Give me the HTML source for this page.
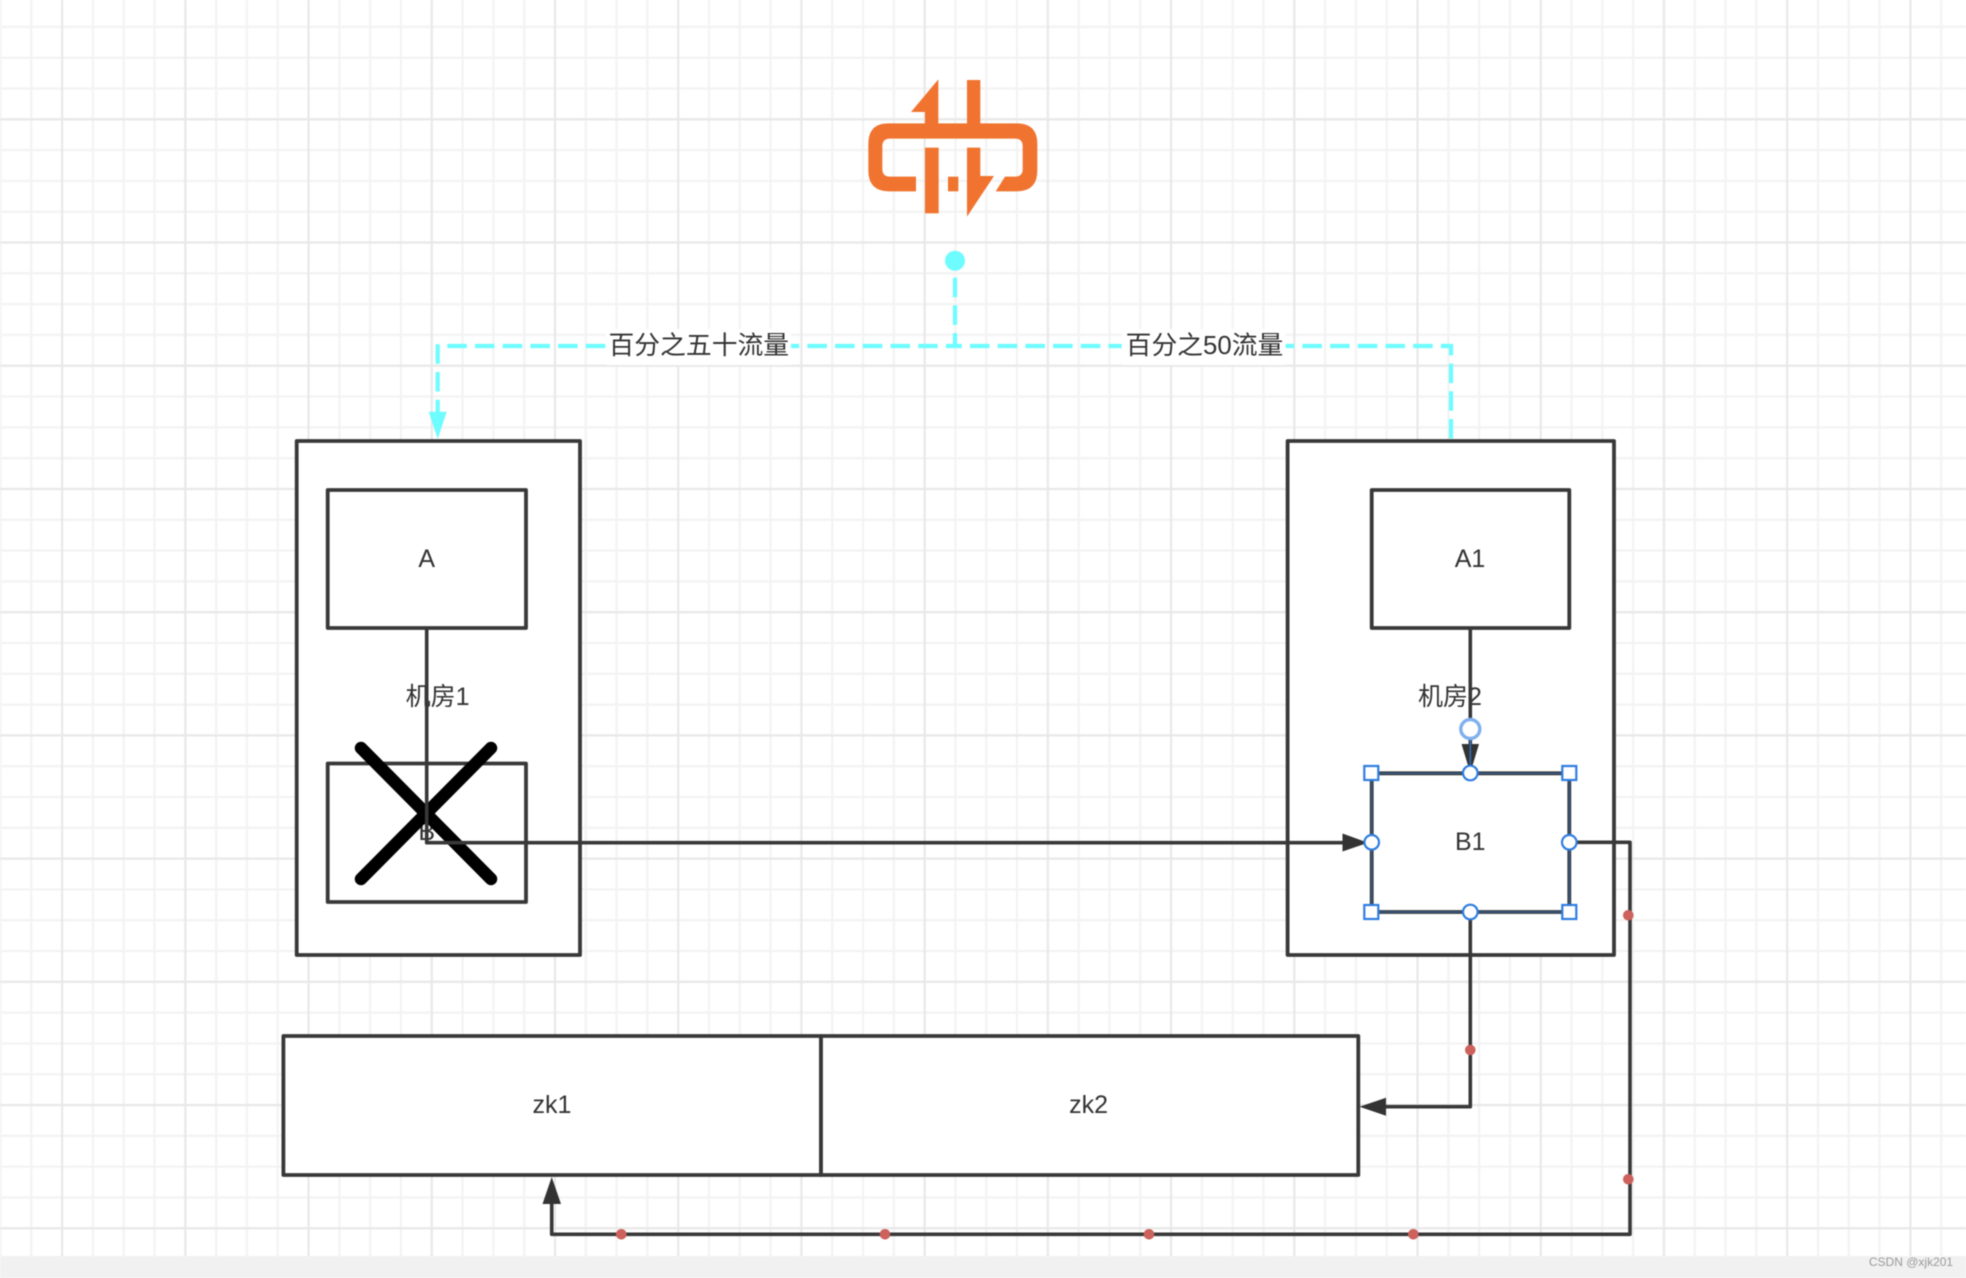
<!DOCTYPE html>
<html><head><meta charset="utf-8"><style>
html,body{margin:0;padding:0;background:#fff;width:1966px;height:1278px;overflow:hidden}
svg{display:block;filter:blur(.45px)}
text{font-family:"Liberation Sans","Noto Sans CJK SC",sans-serif;font-size:25px;fill:#333;text-anchor:middle;dominant-baseline:central}
</style></head><body>
<svg width="1966" height="1278" viewBox="0 0 1966 1278" xmlns="http://www.w3.org/2000/svg">
<defs>
<pattern id="g" patternUnits="userSpaceOnUse" x="60.1" y="117.3" width="123.22" height="123.22">
<path d="M32.8 0V123.22M63.6 0V123.22M94.4 0V123.22M0 32.8H123.22M0 63.6H123.22M0 94.4H123.22" stroke="#f3f3f3" stroke-width="2.2" fill="none"/>
<path d="M2 0V123.22M0 2H123.22" stroke="#e8e8e8" stroke-width="2.2" fill="none"/>
</pattern>
</defs>
<rect width="1966" height="1278" fill="#fff"/>
<rect width="1966" height="1256" fill="url(#g)"/>
<rect y="1256" width="1966" height="22" fill="#f1f1f1"/>
<text x="1911" y="1262" style="font-size:12px;fill:#9a9a9a">CSDN @xjk201</text>

<!-- logo -->
<g fill="#f0742f" transform="translate(800 50) scale(.33333)">
<path d="M415 88L333 186H375V222H415Z"/>
<rect x="501" y="90" width="40" height="132"/>
<path fill-rule="evenodd" d="M265 220H650Q712 220 712 282V362Q712 424 650 424H587L615 380H645Q668 380 668 357V289Q668 266 645 266H270Q247 266 247 289V357Q247 380 270 380H348V424H267Q205 424 205 362V282Q205 220 265 220Z"/>
<rect x="375" y="293" width="41" height="197"/>
<rect x="444" y="380" width="31" height="44"/>
<path d="M501 293H541V378H582L501 500Z"/>
</g>

<!-- boxes -->
<g fill="#fff" stroke="#383838" stroke-width="3.8" stroke-linejoin="round">
<rect x="296.7" y="441" width="283.3" height="514"/>
<rect x="1287.6" y="441" width="326.4" height="514"/>
<rect x="327.7" y="490" width="198.3" height="138"/>
<rect x="327.7" y="763.5" width="198.3" height="138.5"/>
<rect x="1371.7" y="490" width="197.6" height="138"/>
<rect x="1371.7" y="773.3" width="197.6" height="138.7"/>
<rect x="283.4" y="1036" width="537.6" height="139"/>
<rect x="821" y="1036" width="537.3" height="139"/>
</g>

<!-- text -->
<text x="426.7" y="559">A</text>
<text x="426.7" y="832">B</text>
<text x="437.6" y="697">机房1</text>
<text x="1470" y="559">A1</text>
<text x="1450" y="697">机房2</text>
<text x="1470.3" y="842">B1</text>
<text x="552" y="1105">zk1</text>
<text x="1088.6" y="1105">zk2</text>

<!-- cross -->
<g stroke="#000" stroke-width="12.5" stroke-linecap="round">
<path d="M361 748L491 879M491 748L361 879"/>
</g>

<!-- connectors -->
<g fill="none" stroke="#383838" stroke-width="3.6" stroke-linejoin="round">
<path d="M426.7 628V842.7H1345"/>
<path d="M1470.3 628V746"/>
<path d="M1470.3 912V1106.7H1384"/>
<path d="M1569 842.3H1630V1234.3H551.7V1202"/>
</g>
<g fill="#333">
<path d="M1342.5 833.5L1368 842.7L1342.5 851.5Z"/>
<path d="M1461.5 744H1479L1470.3 773Z"/>
<path d="M1386 1097.7V1115.7L1359.5 1106.7Z"/>
<path d="M542.5 1204H561L551.7 1177Z"/>
</g>
<g fill="#cd615c">
<circle cx="1470.3" cy="1050" r="5.3"/>
<circle cx="1628.3" cy="1179.3" r="5.3"/>
<circle cx="1628.3" cy="915.3" r="5.3"/>
<circle cx="1413.3" cy="1234.3" r="5.3"/>
<circle cx="1149" cy="1234.3" r="5.3"/>
<circle cx="885" cy="1234.3" r="5.3"/>
<circle cx="621.3" cy="1234.3" r="5.3"/>
</g>

<!-- cyan flow -->
<circle cx="955" cy="260.7" r="10" fill="#6efcff"/>
<g fill="none" stroke="#6efcff" stroke-width="4.2" stroke-dasharray="19.5 8.2">
<path d="M955 277.7V346"/>
<path d="M447.3 346H955"/>
<path d="M437.7 344.3V415"/>
<path d="M955 346H1451V441" stroke-dashoffset="12.7"/>
</g>
<path d="M428.7 411.7H446.7L437.7 439Z" fill="#6efcff"/>
<rect x="606" y="329" width="185" height="36" fill="#fff"/>
<rect x="1121.7" y="329" width="164" height="36" fill="#fff"/>
<text x="698.8" y="346" style="font-size:25.8px">百分之五十流量</text>
<text x="1204.5" y="346" style="font-size:25.8px">百分之50流量</text>

<!-- selection -->
<rect x="1371.7" y="773.3" width="197.6" height="138.7" fill="none" stroke="#2f7de1" stroke-width="1" opacity=".7"/>
<path d="M1470.3 738V764" stroke="#2f7de1" stroke-width="1.2"/>
<circle cx="1470.3" cy="729" r="9.5" fill="#fff" stroke="#7fb0ef" stroke-width="3.4"/>
<g fill="#fff" stroke="#2f7de1" stroke-width="2.2">
<rect x="1364.3" y="766" width="14" height="14"/>
<rect x="1562.3" y="766" width="14" height="14"/>
<rect x="1364.3" y="905" width="14" height="14"/>
<rect x="1562.3" y="905" width="14" height="14"/>
<circle cx="1470.3" cy="773" r="7.3"/>
<circle cx="1470.3" cy="912" r="7.3"/>
<circle cx="1371.7" cy="842.3" r="7.3"/>
<circle cx="1569.3" cy="842.3" r="7.3"/>
</g>
</svg>
</body></html>
